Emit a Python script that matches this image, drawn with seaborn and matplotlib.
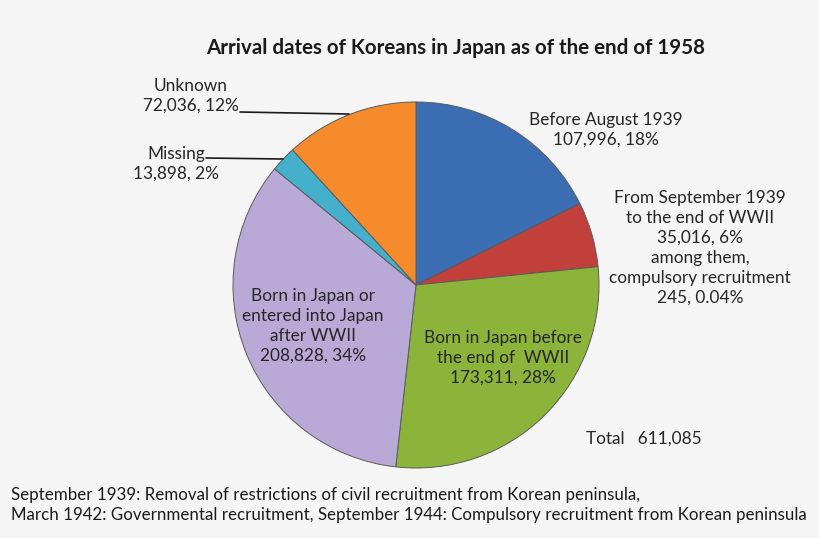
import matplotlib
matplotlib.use("Agg")
import matplotlib.pyplot as plt
import seaborn as sns

# slices clockwise from 12 o'clock
categories = [
    "Before August 1939",
    "From September 1939 to the end of WWII",
    "Born in Japan before the end of WWII",
    "Born in Japan or entered into Japan after WWII",
    "Missing",
    "Unknown",
]
counts = [107996, 35016, 173311, 208828, 13898, 72036]
shares = ["18%", "6%", "28%", "34%", "2%", "12%"]
total = 611085
colors = ["#3b6db3", "#c2403c", "#8cb43a", "#b9a9d6", "#44b0cc", "#f58b2d"]

sns.set_theme(style="white")
plt.rcParams["font.family"] = ["Lato", "DejaVu Sans"]

W, H = 820, 538
fig = plt.figure(figsize=(W / 100, H / 100), dpi=100)
fig.patch.set_facecolor("#f5f5f5")
ax = fig.add_axes([0, 0, 1, 1])
ax.set_facecolor("#f5f5f5")

cx, cy, r = 416, H - 285, 183
wedges, _ = ax.pie(counts, colors=colors, startangle=90, counterclock=False,
                   center=(cx, cy), radius=r, frame=True,
                   wedgeprops=dict(edgecolor="#5a5a5a", linewidth=0.7))
ax.set_xlim(0, W)
ax.set_ylim(0, H)
ax.set_aspect("equal")
ax.axis("off")


def px(x, y):
    return x, H - y


txt = dict(fontsize=12.4, color="#262626", ha="center", va="center", linespacing=1.3)

ax.text(*px(456, 48), "Arrival dates of Koreans in Japan as of the end of 1958",
        fontsize=14.8, fontweight="bold", ha="center", va="center", color="#1a1a1a")

ax.text(*px(606, 130), f"{categories[0]}\n{counts[0]:,}, {shares[0]}", **txt)
ax.text(*px(700, 248),
        f"From September 1939\nto the end of WWII\n{counts[1]:,}, {shares[1]}\n"
        "among them,\ncompulsory recruitment\n245, 0.04%", **txt)
ax.text(*px(503, 358), f"Born in Japan before\nthe end of  WWII\n{counts[2]:,}, {shares[2]}", **txt)
ax.text(*px(313, 326), f"Born in Japan or\nentered into Japan\nafter WWII\n{counts[3]:,}, {shares[3]}", **txt)
ax.text(*px(176, 164), f"{categories[4]}\n{counts[4]:,}, {shares[4]}", **txt)
ax.text(*px(191, 96), f"{categories[5]}\n{counts[5]:,}, {shares[5]}", **txt)

# leader lines
ax.plot(*zip(px(240, 112), px(349, 114)), color="#1a1a1a", lw=1.2)
ax.plot(*zip(px(206, 158), px(283, 159)), color="#1a1a1a", lw=1.2)

ax.text(*px(586, 439), f"Total   {total:,}", fontsize=12.4, color="#262626", ha="left", va="center")

ax.text(*px(11, 505),
        "September 1939: Removal of restrictions of civil recruitment from Korean peninsula,\n"
        "March 1942: Governmental recruitment, September 1944: Compulsory recruitment from Korean peninsula",
        fontsize=12.2, color="#1a1a1a", ha="left", va="center", linespacing=1.35)

fig.savefig("out.png", dpi=100, facecolor=fig.get_facecolor())
